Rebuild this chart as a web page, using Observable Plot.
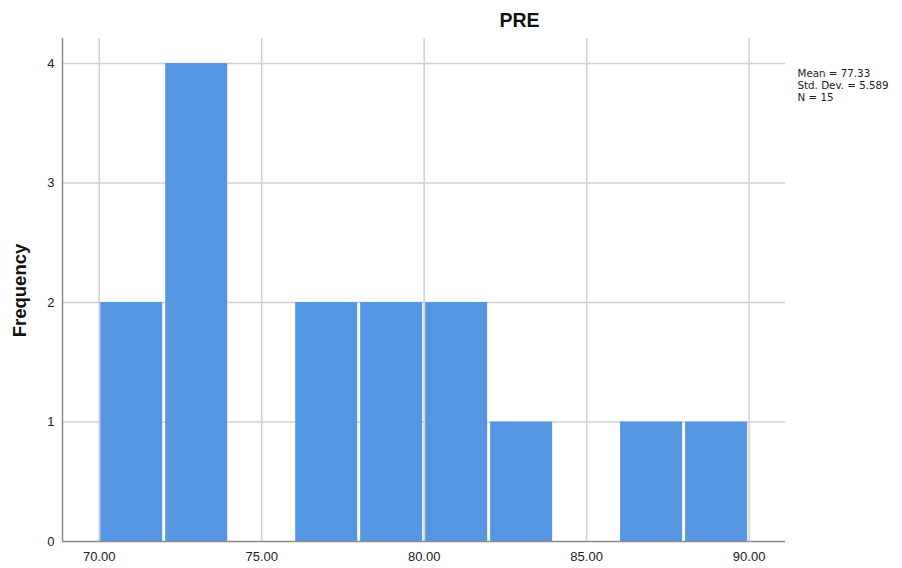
<!DOCTYPE html>
<html>
<head>
<meta charset="utf-8">
<script src="https://cdn.jsdelivr.net/npm/d3@7"></script>
<script src="https://cdn.jsdelivr.net/npm/@observablehq/plot@0.6"></script>
<style>
  html, body { margin: 0; padding: 0; background: #fff; }
  body { width: 902px; height: 568px; overflow: hidden; font-family: "Liberation Sans", Arial, sans-serif; }
</style>
</head>
<body>
<div id="chart"></div>
<script>
const binStart = [70, 72, 74, 76, 78, 80, 82, 84, 86, 88];
const binEnd   = [72, 74, 76, 78, 80, 82, 84, 86, 88, 90];
const frequency = [2, 4, 0, 2, 2, 2, 1, 0, 1, 1];
const xTicks = [70, 75, 80, 85, 90];
const yTicks = [0, 1, 2, 3, 4];
const title = "PRE";
const yLabel = "Frequency";
const stats = ["Mean = 77.33", "Std. Dev. = 5.589", "N = 15"];

const bins = binStart.map((s, i) => ({x1: s, x2: binEnd[i], count: frequency[i]})).filter(d => d.count > 0);

const xDomain = [68.87, 91.12];
const yDomain = [0, 4.21];

const plot = Plot.plot({
  width: 902,
  height: 568,
  marginLeft: 62,
  marginRight: 117,
  marginTop: 38,
  marginBottom: 27,
  style: {fontFamily: "'Liberation Sans', Arial, sans-serif", fontSize: "13px", color: "#222", background: "#fff"},
  x: {domain: xDomain, ticks: xTicks, tickFormat: d => d.toFixed(2), label: null, tickSize: 0, tickPadding: 10},
  y: {domain: yDomain, ticks: yTicks, tickFormat: d => String(d), label: null, tickSize: 0, tickPadding: 8},
  marks: [
    Plot.ruleX(xTicks, {stroke: "#d0d0d0", strokeWidth: 1.5, strokeOpacity: 1}),
    Plot.ruleY(yTicks.filter(d => d > 0), {stroke: "#d0d0d0", strokeWidth: 1.5, strokeOpacity: 1}),
    Plot.rectY(bins, {x1: "x1", x2: "x2", y: "count", fill: "#5596e3", insetLeft: 1.5, insetRight: 1.5}),
    Plot.ruleX([xDomain[0]], {stroke: "#8a8a8a", strokeWidth: 1.5}),
    Plot.ruleY([0], {stroke: "#8a8a8a", strokeWidth: 1.5})
  ]
});

document.getElementById("chart").appendChild(plot);
const svg = d3.select(plot);

svg.append("text")
  .attr("x", 519.5).attr("y", 27)
  .attr("text-anchor", "middle")
  .attr("font-size", 19.5).attr("font-weight", "bold")
  .attr("fill", "#111")
  .text(title);

svg.append("text")
  .attr("transform", "translate(26,290.5) rotate(-90)")
  .attr("text-anchor", "middle")
  .attr("font-size", 18.5).attr("font-weight", "bold")
  .attr("fill", "#111")
  .text(yLabel);

stats.forEach((s, i) => {
  svg.append("text")
    .attr("x", 797.5)
    .attr("y", 76.5 + i * 12)
    .attr("text-anchor", "start")
    .attr("font-family", "'DejaVu Sans', sans-serif")
    .attr("font-size", 10.3)
    .attr("fill", "#222")
    .text(s);
});
</script>
</body>
</html>
